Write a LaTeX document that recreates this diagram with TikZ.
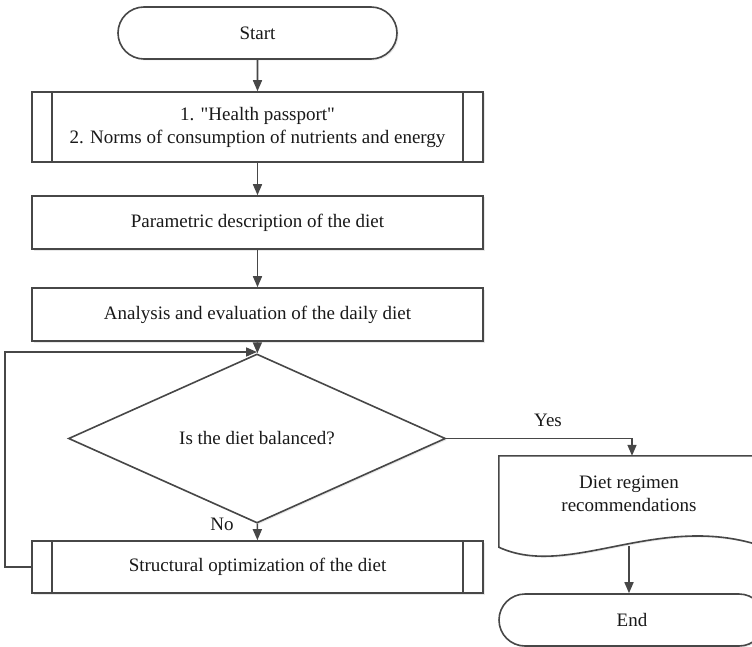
\documentclass[tikz,border=0pt]{standalone}
\usepackage{fontspec}
\setmainfont{Liberation Serif}
\usetikzlibrary{shapes.geometric,shapes.misc,arrows.meta,calc,shadows}
\begin{document}
\begin{tikzpicture}[x=1pt,y=-1pt,
  every node/.style={font=\fontsize{19}{23}\selectfont, text=black!90},
  line/.style={draw=black!72, line width=1.6pt},
  shad/.style={drop shadow={opacity=0.18, shadow xshift=1.5pt, shadow yshift=-1.5pt}},
  arr/.style={line, -{Triangle[length=11pt,width=9pt]}},
  term/.style={rounded rectangle, line, shad, fill=white, minimum height=52pt, inner sep=0pt},
  proc/.style={rectangle, line, shad, fill=white, minimum width=451pt, inner sep=0pt, align=center},
  decis/.style={diamond, line, shad, fill=white, minimum width=377pt, minimum height=137pt, inner sep=0pt},
  lbl/.style={inner sep=0pt}
]
\useasboundingbox (0,0) rectangle (752,647);
\clip (0,0) rectangle (752,647);

\node[term, minimum width=279pt] (start) at (257.5,33) {Start};
\node[proc, minimum height=70pt] (b1) at (257.5,127) {1. \textquotedbl Health passport\textquotedbl\\2. Norms of consumption of nutrients and energy};
\node[proc, minimum height=53pt] (b2) at (257.5,222.5) {Parametric description of the diet};
\node[proc, minimum height=53pt] (b3) at (257.5,314.5) {Analysis and evaluation of the daily diet};
\node[decis] (dec) at (257,438.5) {Is the diet balanced?};
\node[proc, minimum height=52pt] (b4) at (257.5,567) {Structural optimization of the diet};
\node[rectangle, minimum width=266pt, minimum height=91pt, inner sep=0pt] (doc) at (632,501.5) {};
\node[term, minimum width=266pt] (end) at (632,620) {End};

% document shape
\draw[line, shad, fill=white] (doc.south west) -- (doc.north west) -- (doc.north east) -- (doc.south east)
  .. controls (660,510) and (570,580) .. (doc.south west) -- cycle;
\node[lbl, align=center] (doctext) at (629,494) {Diet regimen\\recommendations};
\coordinate (docb) at (629,546);

\node[lbl] (yes) at (548,420) {Yes};
\node[lbl] (no) at (222,524) {No};

% predefined process side bars
\foreach \b in {b1,b4}{
  \draw[line] ($(\b.north west)+(21,0)$) -- ($(\b.south west)+(21,0)$);
  \draw[line] ($(\b.north east)+(-21,0)$) -- ($(\b.south east)+(-21,0)$);
}

% connectors
\draw[arr] (start) -- (b1);
\draw[arr] (b1) -- (b2);
\draw[arr] (b2) -- (b3);
\draw[arr] (b3) -- (dec);
\draw[arr] (dec) -- (b4);
\draw[arr] (dec.east) -| (doc.north -| end.north);
\draw[arr] (docb) -- (end.north -| docb);
\coordinate (loopj) at (257,352);
\draw[arr] (b4.west) -- ++(-26,0) |- (loopj);
\end{tikzpicture}
\end{document}
